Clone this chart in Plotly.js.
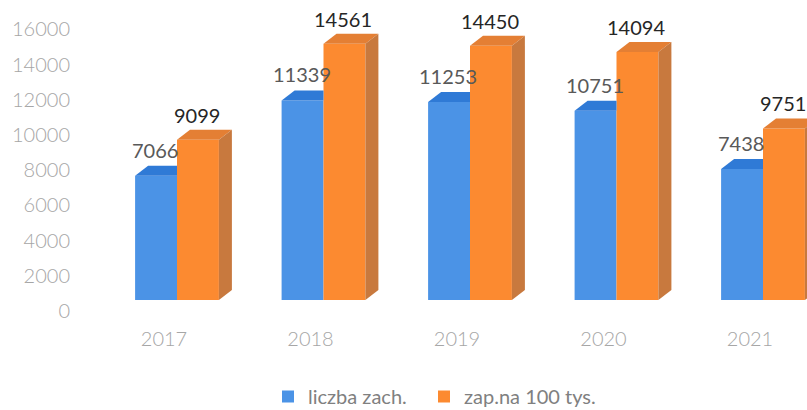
<!DOCTYPE html>
<html>
<head>
<meta charset="utf-8">
<script src="https://cdn.plot.ly/plotly-3.0.1.min.js"></script>
<style>html,body{margin:0;padding:0;background:#fff;}#chart{width:807px;height:410px;}</style>
</head>
<body>
<div id="chart"></div>
<script>
// ---- data ----
const years = [2017, 2018, 2019, 2020, 2021];
const liczbaZach = [7066, 11339, 11253, 10751, 7438];
const zapNa100 = [9099, 14561, 14450, 14094, 9751];
const seriesNames = ['liczba zach.', 'zap.na 100 tys.'];
const yTicks = [0, 2000, 4000, 6000, 8000, 10000, 12000, 14000, 16000];

// ---- geometry / style ----
const PX_PER_YEAR = 146.5;
const PX_PER_UNIT = 0.0176;
const L = 80, PLOT_W = 727, PLOT_H = 315;
const xMin = 2017 - (177 - L) / PX_PER_YEAR;
const xMax = xMin + PLOT_W / PX_PER_YEAR;
const yMin = -(PLOT_H - 300) / PX_PER_UNIT;
const yMax = 300 / PX_PER_UNIT;
const BARGAP = 0.428;
const HALF = (1 - BARGAP) / 2;      // width of one bar (x units)
const DX = 13 / PX_PER_YEAR;        // depth offset in x
const DY = 10 / PX_PER_UNIT;        // depth offset in y

const blue = {front: '#4b93e6', top: '#2f7ad6'};
const orange = {front: '#fc8a30', top: '#e47f34', side: '#c8793e'};

const traces = [
  {type: 'bar', name: seriesNames[0], x: years, y: liczbaZach, legend: 'legend',
   marker: {color: blue.front, line: {width: 0}}, hoverinfo: 'x+y'},
  {type: 'bar', name: seriesNames[1], x: years, y: zapNa100, legend: 'legend2',
   marker: {color: orange.front, line: {width: 0}}, hoverinfo: 'x+y'}
];

// 3D faces derived from the data
years.forEach((yr, i) => {
  const v = liczbaZach[i];
  const x0 = yr - HALF, x1 = yr;
  traces.push({type: 'scatter', mode: 'lines', fill: 'toself', fillcolor: blue.top,
    line: {width: 0, color: blue.top}, hoverinfo: 'skip', showlegend: false,
    x: [x0, x1, x1, x0 + DX, x0], y: [v, v, v + DY, v + DY, v]});
});
years.forEach((yr, i) => {
  const v = zapNa100[i];
  const x0 = yr, x1 = yr + HALF;
  traces.push({type: 'scatter', mode: 'lines', fill: 'toself', fillcolor: orange.top,
    line: {width: 0, color: orange.top}, hoverinfo: 'skip', showlegend: false,
    x: [x0, x1, x1 + DX, x0 + DX, x0], y: [v, v, v + DY, v + DY, v]});
  traces.push({type: 'scatter', mode: 'lines', fill: 'toself', fillcolor: orange.side,
    line: {width: 0, color: orange.side}, hoverinfo: 'skip', showlegend: false,
    x: [x1, x1 + DX, x1 + DX, x1, x1], y: [0, DY, v + DY, v, 0]});
});

const annotations = [];
years.forEach((yr, i) => {
  annotations.push({x: yr - HALF / 2, y: liczbaZach[i], xref: 'x', yref: 'y',
    text: String(liczbaZach[i]), showarrow: false, yanchor: 'middle', yshift: 26, xshift: -1,
    font: {family: 'Lato, sans-serif', size: 20, color: '#595959'}});
  annotations.push({x: yr + HALF / 2, y: zapNa100[i], xref: 'x', yref: 'y',
    text: String(zapNa100[i]), showarrow: false, yanchor: 'middle', yshift: 25, xshift: -1,
    font: {family: 'Lato, sans-serif', size: 20, color: '#262626'}});
});

const legendFont = {family: 'Lato, sans-serif', size: 20, color: '#808080'};
const layout = {
  width: 807, height: 410,
  margin: {l: L, r: 0, t: 0, b: 410 - PLOT_H, pad: 0, autoexpand: false},
  paper_bgcolor: '#fff', plot_bgcolor: '#fff',
  barmode: 'group', bargap: BARGAP, bargroupgap: 0,
  showlegend: true,
  legend: {orientation: 'h', xref: 'container', yref: 'container',
    x: 268 / 807, xanchor: 'left', y: 1 - 377 / 410, yanchor: 'top',
    font: legendFont, itemwidth: 30},
  legend2: {orientation: 'h', xref: 'container', yref: 'container',
    x: 424 / 807, xanchor: 'left', y: 1 - 377 / 410, yanchor: 'top',
    font: legendFont, itemwidth: 30},
  xaxis: {range: [xMin, xMax], tickvals: years, ticktext: years.map(String),
    showgrid: false, zeroline: false, showline: false, ticks: '', automargin: false,
    ticklabelshift: -13, ticklabelstandoff: 10,
    tickfont: {family: 'Lato, sans-serif', size: 20, color: '#a6a6a6', weight: 300}},
  yaxis: {range: [yMin, yMax], tickvals: yTicks, tickformat: 'd', automargin: false,
    showgrid: false, zeroline: false, showline: false, ticks: '',
    ticklabelshift: 11, ticklabelstandoff: 9,
    tickfont: {family: 'Lato, sans-serif', size: 20, color: '#a6a6a6', weight: 300}},
  annotations: annotations
};

Plotly.newPlot('chart', traces, layout, {displayModeBar: false, staticPlot: true});
</script>
</body>
</html>
